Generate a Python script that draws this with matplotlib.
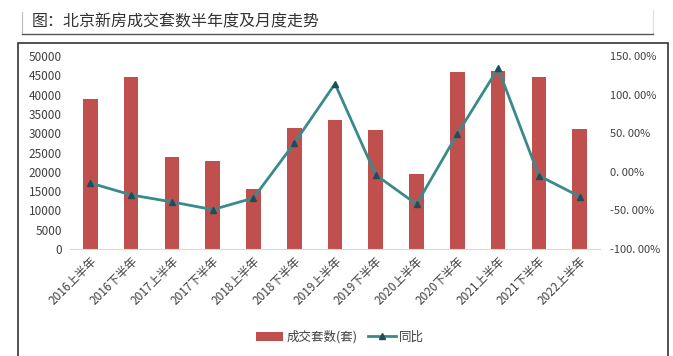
import matplotlib
matplotlib.use("Agg")
import matplotlib.pyplot as plt
import matplotlib.transforms as mtransforms
from matplotlib.lines import Line2D
from matplotlib.patches import Rectangle

plt.rcParams['font.family'] = ['Noto Sans CJK SC', 'DejaVu Sans']

# data
periods = ['2016上半年', '2016下半年', '2017上半年', '2017下半年', '2018上半年',
           '2018下半年', '2019上半年', '2019下半年', '2020上半年', '2020下半年',
           '2021上半年', '2021下半年', '2022上半年']
deals = [38900, 44600, 23800, 22800, 15500, 31300, 33400,
         30800, 19400, 45900, 46100, 44600, 31100]
yoy = [-14.5, -30, -39, -49, -34, 37, 114, -4, -42, 49, 134, -5, -32]

bar_color = '#C0504D'
line_color = '#3A8A8C'
txt = '#404040'

W, H = 673, 356
fig = plt.figure(figsize=(W/100, H/100), dpi=100)

# title block and chart frame
fig.text(32/W, 1-22/H, '图：北京新房成交套数半年度及月度走势', fontsize=11.5,
         color='#333333', va='center', ha='left')
fig.add_artist(Line2D([22/W, 22/W], [1-12/H, 1-33/H], color='#BBBBBB', lw=0.8))
fig.add_artist(Line2D([653/W, 653/W], [1-10/H, 1-33/H], color='#DDDDDD', lw=0.8))
fig.add_artist(Line2D([22/W, 653/W], [1-34/H, 1-34/H], color='#555555', lw=1.0))
fig.add_artist(Rectangle((18/W, -0.05), 650/W, 1.05-43/H, fill=False,
                         edgecolor='#333333', lw=1.2, transform=fig.transFigure))

ax = fig.add_axes([70/W, 1-249/H, 530/W, 193/H])
x = list(range(len(periods)))
ax.bar(x, deals, width=0.36, color=bar_color, label='成交套数(套)', zorder=2)
ax.set_ylim(0, 50000)
ax.set_yticks(range(0, 50001, 5000))
ax.set_xlim(-0.5, len(periods) - 0.5)
ax.set_xticks(x)
ax.set_xticklabels(periods, rotation=45, ha='right', rotation_mode='anchor',
                   fontsize=8.5, color=txt)
offset = mtransforms.ScaledTranslation(-4/100, -8/100, fig.dpi_scale_trans)
for lab in ax.get_xticklabels():
    lab.set_transform(lab.get_transform() + offset)
ax.tick_params(axis='x', length=0, pad=4)
ax.tick_params(axis='y', length=0, labelsize=8.5, labelcolor=txt, pad=6)
for s in ['top', 'right', 'left']:
    ax.spines[s].set_visible(False)
ax.spines['bottom'].set_color('#D9D9D9')

ax2 = ax.twinx()
ax2.plot(x, yoy, color=line_color, lw=2, marker='^', markersize=4,
         markerfacecolor='#1F4E5A', markeredgecolor='#1F4E5A', label='同比', zorder=3)
ax2.set_ylim(-100, 150)
ax2.set_yticks(range(-100, 151, 50))
ax2.set_yticklabels(['{:.2f}%'.format(v).replace('.', '. ') for v in range(-100, 151, 50)])
ax2.tick_params(axis='y', length=0, labelsize=8, labelcolor=txt, pad=7)
for s in ['top', 'right', 'left', 'bottom']:
    ax2.spines[s].set_visible(False)

h1, l1 = ax.get_legend_handles_labels()
h2, l2 = ax2.get_legend_handles_labels()
fig.legend(h1 + h2, l1 + l2, loc='center', bbox_to_anchor=(340/W, 1-337/H), ncol=2,
           frameon=False, fontsize=9, handlelength=2.2, handletextpad=0.3,
           columnspacing=0.8, labelcolor=txt)

fig.savefig('out.png', dpi=100)
